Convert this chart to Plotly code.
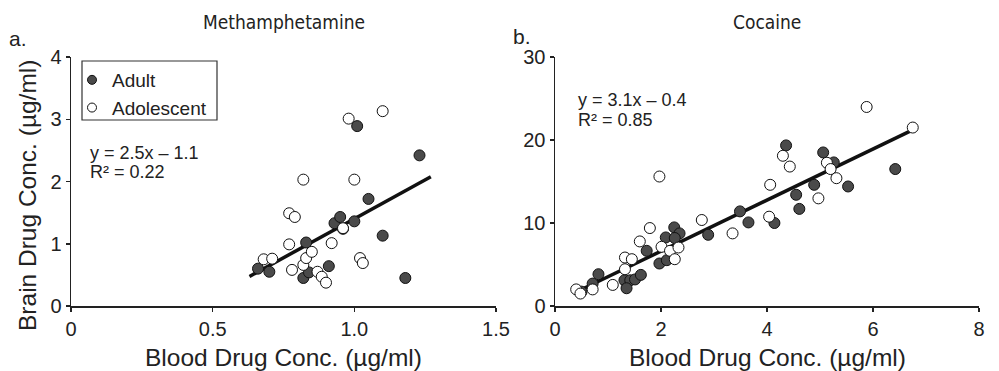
import plotly.graph_objects as go

W, H = 999, 371

# ---------------- data ----------------
meth_adult_x = [0.66, 0.70, 0.82, 0.84, 0.83, 0.91, 0.93, 0.95, 0.96, 1.00, 1.01, 1.05, 1.10, 1.18, 1.23]
meth_adult_y = [0.60, 0.55, 0.45, 0.54, 1.02, 0.64, 1.33, 1.43, 1.24, 1.36, 2.89, 1.72, 1.13, 0.45, 2.42]
meth_adol_x = [0.68, 0.71, 0.77, 0.79, 0.77, 0.78, 0.82, 0.82, 0.83, 0.85, 0.87, 0.885, 0.90, 0.92, 0.96, 0.98, 1.00, 1.02, 1.03, 1.10]
meth_adol_y = [0.75, 0.76, 1.49, 1.43, 0.99, 0.58, 2.03, 0.66, 0.77, 0.87, 0.55, 0.47, 0.375, 1.01, 1.25, 3.01, 2.03, 0.77, 0.69, 3.13]
meth_fit_x = [0.63, 1.27]
meth_slope, meth_intercept = 2.5, -1.1

coke_adult_x = [0.50, 0.71, 0.82, 1.31, 1.42, 1.51, 1.62, 1.35, 1.73, 1.97, 2.11, 2.09, 2.25, 2.35, 2.26,
                2.89, 3.49, 3.65, 4.14, 4.36, 5.06, 5.26, 4.89, 4.55, 4.61, 5.53, 6.42]
coke_adult_y = [1.73, 2.7, 3.83, 3.1, 3.1, 3.2, 3.75, 2.14, 6.65, 5.12, 5.52, 8.26, 9.47, 8.75, 8.19,
                8.58, 11.4, 10.07, 10.0, 19.35, 18.5, 17.3, 14.6, 13.4, 11.7, 14.4, 16.5]
coke_adol_x = [0.40, 0.48, 0.71, 1.09, 1.32, 1.32, 1.45, 1.60, 1.79, 1.97, 2.01, 2.17, 2.26, 2.33, 2.77,
               3.35, 4.04, 4.06, 4.30, 4.43, 4.97, 5.13, 5.20, 5.31, 5.88, 6.75]
coke_adol_y = [2.0, 1.5, 2.0, 2.54, 5.84, 4.43, 5.64, 7.78, 9.39, 15.6, 7.13, 6.65, 5.64, 7.05, 10.36,
               8.75, 10.76, 14.6, 18.1, 16.8, 12.97, 17.26, 16.5, 15.4, 23.98, 21.5]
coke_fit_x = [0.47, 6.76]
coke_fit_y = [1.9, 21.25]

meth_xticks = [0, 0.5, 1.0, 1.5]
meth_xtext = ["0", "0.5", "1.0", "1.5"]
meth_yticks = [0, 1, 2, 3, 4]
coke_xticks = [0, 2, 4, 6, 8]
coke_yticks = [0, 10, 20, 30]

# ---------------- style ----------------
FONT = "Liberation Sans, Arial, Helvetica, sans-serif"
NARROW = "Liberation Sans Narrow, Arial Narrow, DejaVu Sans Condensed, sans-serif"
ADULT_FILL = "#4a4a4a"
AX = "#222222"
MS = 11

def px_x(p):
    return p / W

def px_y(p):
    return 1 - p / H

fig = go.Figure()

def add_panel(ax, adx, ady, aox, aoy, fx, fy):
    fig.add_trace(go.Scatter(x=fx, y=fy, mode="lines", xaxis=ax[0], yaxis=ax[1],
                             line=dict(color="#111111", width=3.5), showlegend=False, hoverinfo="skip"))
    fig.add_trace(go.Scatter(x=adx, y=ady, mode="markers", xaxis=ax[0], yaxis=ax[1], showlegend=False,
                             marker=dict(size=MS, color=ADULT_FILL, line=dict(color="#111111", width=1))))
    fig.add_trace(go.Scatter(x=aox, y=aoy, mode="markers", xaxis=ax[0], yaxis=ax[1], showlegend=False,
                             marker=dict(size=MS, color="white", line=dict(color="#111111", width=1))))

meth_fit_y = [meth_slope * v + meth_intercept for v in meth_fit_x]
add_panel(("x", "y"), meth_adult_x, meth_adult_y, meth_adol_x, meth_adol_y, meth_fit_x, meth_fit_y)
add_panel(("x2", "y2"), coke_adult_x, coke_adult_y, coke_adol_x, coke_adol_y, coke_fit_x, coke_fit_y)

# legend entries
fig.add_trace(go.Scatter(x=[None], y=[None], mode="markers", name="Adult", xaxis="x", yaxis="y",
                         marker=dict(size=9, color=ADULT_FILL, line=dict(color="#111111", width=1))))
fig.add_trace(go.Scatter(x=[None], y=[None], mode="markers", name="Adolescent", xaxis="x", yaxis="y",
                         marker=dict(size=9, color="white", line=dict(color="#111111", width=1))))

axis_common = dict(showgrid=False, zeroline=False, showline=True, linecolor=AX, linewidth=1.5,
                   ticks="outside", ticklen=4, tickwidth=1.5, tickcolor=AX,
                   tickfont=dict(family=FONT, size=20, color="#222222"), automargin=False,
                   fixedrange=True)

y_dom = [65 / H, 314 / H]
fig.update_layout(
    width=W, height=H, margin=dict(l=0, r=0, t=0, b=0),
    paper_bgcolor="white", plot_bgcolor="white",
    font=dict(family=FONT, color="#222222"),
    xaxis=dict(domain=[71 / W, 496 / W], range=[0, 1.5], tickvals=meth_xticks, ticktext=meth_xtext, **axis_common),
    yaxis=dict(domain=y_dom, range=[0, 4], tickvals=meth_yticks, anchor="x", **axis_common),
    xaxis2=dict(domain=[555 / W, 979 / W], range=[0, 8], tickvals=coke_xticks, anchor="y2", **axis_common),
    yaxis2=dict(domain=y_dom, range=[0, 30], tickvals=coke_yticks, anchor="x2", **axis_common),
    legend=dict(x=px_x(72), y=px_y(61), xanchor="left", yanchor="top", bgcolor="rgba(0,0,0,0)",
                borderwidth=0, font=dict(family=FONT, size=19, color="#222222"), tracegroupgap=0),
    showlegend=True,
)

# legend box
fig.add_shape(type="rect", xref="paper", yref="paper", x0=px_x(82), x1=px_x(217), y0=px_y(61), y1=px_y(120),
              line=dict(color="#333333", width=1.2), fillcolor="rgba(0,0,0,0)")

def ann(text, x, y, size, xanchor="center", family=FONT, textangle=0):
    fig.add_annotation(text=text, x=px_x(x), y=px_y(y), xref="paper", yref="paper", showarrow=False,
                       xanchor=xanchor, yanchor="middle", textangle=textangle,
                       font=dict(family=family, size=size, color="#222222"))

ann("a.", 18, 38, 21)
ann("b.", 522, 37, 21)
ann("Methamphetamine", 283.5, 22, 19, family=NARROW)
ann("Cocaine", 767, 22, 19, family=NARROW)
ann("y = 2.5x \u2013 1.1", 88, 153, 18, xanchor="left")
ann("R\u00b2 = 0.22", 88, 172, 18, xanchor="left")
ann("y = 3.1x \u2013 0.4", 576, 100, 18, xanchor="left")
ann("R\u00b2 = 0.85", 576, 120, 18, xanchor="left")
ann("Blood Drug Conc. (\u00b5g/ml)", 283.5, 357, 24.5)
ann("Blood Drug Conc. (\u00b5g/ml)", 767, 357, 24.5)
ann("Brain Drug Conc. (\u00b5g/ml)", 27, 196, 24.5, textangle=-90)

fig.write_html("out.html", config={"displayModeBar": False, "staticPlot": True},
               post_script="document.body.style.margin='0';document.body.style.padding='0';document.body.style.overflow='hidden';")
